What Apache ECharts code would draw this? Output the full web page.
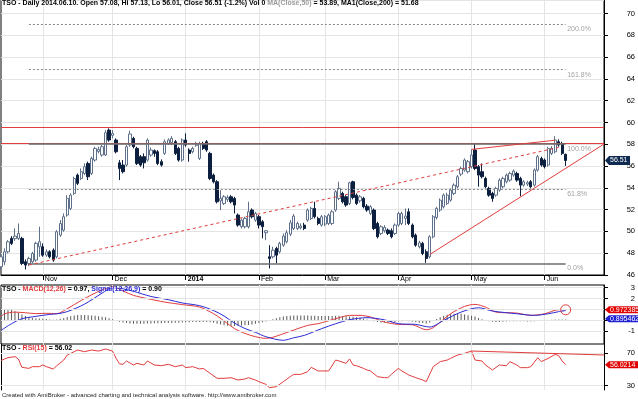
<!DOCTYPE html>
<html>
<head>
<meta charset="utf-8">
<script src="https://cdn.jsdelivr.net/npm/echarts@6/dist/echarts.min.js"></script>
<style>
html, body { margin: 0; padding: 0; background: #fff; }
#container { width: 638px; height: 399px; }
</style>
</head>
<body>
<div id="container"></div>
<script>
// TSO daily, 2013-10-16 .. 2014-06-10
var opens = [46.75,47.21,48.13,49.36,49.33,49.36,49.36,47.21,47.06,47.21,
  47.37,48.59,48.59,47.82,48.13,48.28,47.67,49.66,50.12,51.50,
  52.11,53.49,55.17,54.86,55.32,56.24,55.32,56.55,57.34,57.01,
  57.01,59.30,58.81,58.39,56.30,56.09,56.09,57.93,58.54,57.62,
  56.86,56.86,56.55,57.01,57.41,57.31,56.40,57.16,58.08,58.14,
  58.23,57.62,56.55,58.39,57.47,57.31,57.90,56.70,58.08,58.23,
  57.16,55.17,54.56,52.81,52.57,52.94,53.18,53.03,51.50,50.43,
  50.43,50.43,51.96,51.04,51.35,50.89,49.88,47.67,47.67,48.44,
  48.13,48.74,49.05,49.75,50.27,50.27,50.33,50.58,51.04,51.19,
  52.11,51.19,50.58,50.67,50.73,50.73,51.96,53.03,53.49,53.18,
  52.57,54.56,53.33,52.81,53.03,52.32,51.65,51.96,50.73,49.81,
  50.06,50.12,50.06,49.81,50.58,50.73,51.19,51.80,50.58,49.66,
  48.59,48.90,48.13,47.67,49.51,51.28,51.96,52.26,52.57,52.87,
  53.49,54.10,55.26,55.63,55.48,55.94,57.47,55.94,55.48,54.86,
  53.95,53.49,53.33,53.79,54.10,54.56,54.71,55.17,55.32,54.86,
  54.25,54.34,54.56,54.25,55.63,56.70,56.55,56.09,57.16,57.31,
  58.23,58.08,57.08];
var closes = [47.67,48.13,49.05,48.90,49.57,49.81,47.06,46.91,47.52,47.98,
  48.90,49.05,47.82,48.13,47.67,47.37,49.97,50.73,51.35,53.03,
  53.33,54.86,54.41,55.48,55.94,55.02,56.70,57.62,57.53,57.77,
  59.06,58.39,59.00,57.31,55.78,55.48,57.77,58.94,57.77,56.24,
  56.09,56.30,58.39,57.47,57.16,56.24,56.09,58.23,58.39,58.54,
  57.16,56.55,58.39,57.93,57.16,57.62,58.08,58.08,57.62,57.47,
  54.86,54.56,52.72,53.03,53.18,53.12,52.72,52.42,50.58,51.04,
  51.19,51.80,51.35,51.65,50.58,50.43,50.06,47.52,48.28,47.82,
  48.90,49.57,49.88,50.79,51.41,50.73,50.49,50.27,51.96,52.11,
  51.35,50.73,51.35,51.35,51.50,51.80,53.64,53.95,52.72,52.42,
  54.47,53.12,52.57,53.18,52.26,51.96,52.26,50.27,49.51,50.43,
  50.37,49.81,49.51,50.58,51.65,51.65,51.41,50.73,49.51,48.74,
  48.96,47.98,47.52,49.51,51.35,52.11,52.87,53.33,53.33,53.79,
  54.25,55.02,55.78,56.55,56.40,57.01,55.78,55.17,55.02,54.10,
  53.33,53.03,53.95,54.71,54.86,55.17,55.32,55.54,54.71,54.25,
  54.56,54.47,54.10,55.63,56.86,56.09,55.94,57.62,57.62,58.39,
  57.93,57.16,56.51];
var lows = [46.51,46.91,47.98,48.74,49.14,49.20,46.91,46.51,46.81,47.06,
  47.21,47.67,47.67,47.67,47.52,47.21,47.52,49.51,49.97,51.35,
  51.96,53.33,54.25,54.71,55.17,54.71,55.17,56.40,57.16,56.86,
  56.92,58.23,58.54,57.16,54.71,55.32,55.94,57.77,57.62,56.09,
  55.94,55.78,56.40,56.86,56.86,56.09,55.94,57.01,57.93,57.93,
  57.01,56.40,56.40,57.77,56.40,57.16,57.77,56.55,57.47,57.31,
  54.71,54.41,52.57,51.96,52.42,52.72,52.57,51.65,50.43,50.27,
  50.27,50.27,51.19,50.89,50.27,49.36,49.20,46.60,47.52,47.06,
  47.98,48.59,48.90,49.57,50.12,50.12,50.18,50.12,50.89,51.04,
  51.19,50.58,50.43,50.49,50.58,50.58,51.80,52.87,52.57,52.26,
  52.42,52.94,52.42,52.63,52.11,51.80,51.50,50.12,49.36,49.66,
  49.88,49.66,49.36,49.66,50.43,50.58,50.58,50.58,49.36,48.59,
  48.44,47.82,47.12,47.52,49.36,51.10,51.80,52.11,52.42,52.72,
  53.33,53.95,55.08,55.48,55.32,55.78,55.63,54.10,54.86,53.95,
  53.18,52.72,53.18,53.64,53.95,54.41,54.56,55.02,54.56,53.24,
  54.10,54.16,53.95,54.10,55.48,55.94,55.78,55.94,57.01,57.16,
  57.77,57.01,56.01];
var highs = [47.98,48.44,49.20,49.57,50.27,50.73,49.51,47.43,47.67,48.13,
  49.05,50.43,48.90,48.35,48.28,48.44,50.12,51.04,51.65,53.33,
  53.49,55.02,55.32,55.78,56.24,56.40,56.86,57.77,57.77,57.93,
  59.30,59.46,59.30,58.54,56.55,56.55,57.93,59.24,58.69,57.77,
  57.01,57.16,58.54,57.71,57.53,57.47,56.61,58.45,58.54,58.75,
  58.39,57.77,58.54,59.00,57.62,57.77,58.23,58.23,58.23,58.39,
  57.31,55.32,54.71,53.79,53.33,53.33,53.33,53.18,51.65,51.19,
  51.35,52.72,52.11,51.80,51.50,51.04,50.12,48.74,48.59,48.59,
  49.05,49.81,50.12,51.04,51.59,50.89,50.73,50.79,52.11,52.26,
  52.72,51.35,51.50,51.50,51.65,51.96,53.79,54.56,53.64,53.33,
  54.56,54.65,53.49,53.33,53.18,52.51,52.42,52.11,50.89,50.58,
  50.58,50.27,50.27,50.73,51.80,51.80,52.11,52.11,50.73,49.81,
  49.14,49.05,48.35,49.66,51.50,52.26,53.03,53.49,53.55,53.95,
  54.41,55.17,55.94,56.70,56.55,57.53,58.08,56.09,56.24,55.02,
  54.10,53.64,54.10,54.86,55.02,55.32,55.48,55.69,55.48,55.02,
  54.71,54.65,54.71,55.78,57.01,56.86,56.70,57.77,57.83,58.75,
  58.45,58.23,57.13];

// MACD(12,26) and Signal(12,26,9): [bar, value]
var macdPts = [[0,0.35],[1,0.6],[4,0.76],[7,0.7],[10,0.62],[13,0.65],[16,0.62],[19,1.07],
  [23,1.83],[26,2.35],[29,2.8],[32,3.1],[35,2.7],[38,2.3],[42,2.0],[47,1.68],[52,1.45],
  [57,1.22],[61,0.61],[64,-0.05],[67,-0.76],[70,-1.2],[73,-1.5],[76,-1.65],[78,-1.55],
  [83,-1.0],[88,-0.46],[91,-0.3],[96,0.15],[100,0.46],[103,0.46],[106,0.31],[110,-0.15],
  [114,-0.37],[118,-0.4],[122,-0.86],[124,-0.67],[129,0.61],[133,1.28],[136,1.47],
  [139,1.22],[142,0.76],[148,0.67],[152,0.46],[156,0.61],[160,0.98],[162,0.97]];
var signalPts = [[0,-0.92],[3,-0.31],[6,0.15],[10,0.37],[14,0.55],[16,0.6],[19,0.8],
  [24,1.5],[29,2.5],[32,3.0],[35,2.9],[38,2.67],[43,2.2],[48,1.9],[52,1.6],[57,1.35],
  [61,0.9],[64,0.4],[67,-0.25],[70,-0.75],[73,-1.1],[76,-1.5],[81,-1.83],[84,-1.6],
  [87,-1.38],[92,-0.76],[96,-0.31],[100,0.06],[105,0.25],[110,0.05],[114,-0.3],
  [119,-0.37],[123,-0.61],[127,0.0],[132,0.76],[137,1.16],[141,0.86],[148,0.61],
  [153,0.46],[157,0.61],[160,0.8],[162,0.9]];
var histVals = [1.1,1.05,1.0,0.95,0.85,0.7,0.55,0.4,0.3,0.25,
  0.2,0.18,0.15,0.12,0.08,0.05,0.08,0.15,0.22,0.3,
  0.38,0.45,0.5,0.5,0.5,0.48,0.45,0.42,0.38,0.33,
  0.28,0.2,0.1,-0.02,-0.12,-0.2,-0.25,-0.28,-0.3,-0.3,
  -0.3,-0.3,-0.28,-0.28,-0.27,-0.27,-0.26,-0.25,-0.24,-0.23,
  -0.22,-0.21,-0.2,-0.18,-0.17,-0.16,-0.15,-0.15,-0.15,-0.15,
  -0.18,-0.22,-0.3,-0.38,-0.45,-0.5,-0.52,-0.52,-0.5,-0.48,
  -0.45,-0.42,-0.38,-0.32,-0.25,-0.18,-0.1,0.0,0.1,0.2,
  0.28,0.35,0.4,0.42,0.44,0.45,0.45,0.45,0.44,0.43,
  0.42,0.4,0.4,0.4,0.4,0.4,0.42,0.42,0.4,0.38,
  0.36,0.33,0.28,0.22,0.15,0.08,0.0,-0.08,-0.15,-0.2,
  -0.2,-0.2,-0.18,-0.15,-0.1,-0.08,-0.06,-0.08,-0.12,-0.18,
  -0.22,-0.25,-0.28,-0.2,-0.05,0.12,0.28,0.42,0.52,0.6,
  0.62,0.62,0.6,0.55,0.48,0.42,0.35,0.22,0.1,0.0,
  -0.08,-0.12,-0.14,-0.14,-0.12,-0.1,-0.08,-0.07,-0.07,-0.08,
  -0.09,-0.1,-0.1,-0.07,-0.03,0.0,0.02,0.04,0.06,0.08,
  0.09,0.08,0.07];

// RSI(15): [bar, value]
var rsiPts = [[0,61],[1,63],[2,64.6],[4,65.9],[5,63],[6,52.7],[8,51.4],[9,53.5],[11,53.5],
  [12,55.6],[13,53.5],[15,50.6],[16,54.7],[18,61.7],[19,67.9],[21,72],[22,74.1],[24,72],
  [26,74.1],[28,72.8],[30,75.3],[32,72.8],[33,64],[34,57],[35,56.4],[36,60.5],[38,55.6],
  [39,57.6],[41,55.6],[42,60.5],[44,55.6],[46,54.7],[48,56.4],[50,53.5],[52,55.6],
  [53,52.3],[55,53.5],[57,50.6],[58,51.4],[60,45.3],[62,39.1],[64,39.1],[66,39.9],
  [68,37.0],[70,38.3],[71,39.9],[73,37.0],[74,35.0],[76,31.7],[77,27.6],[79,28.8],
  [81,35.0],[83,41.2],[84,44.0],[86,44.0],[88,47.3],[89,52.7],[91,48.2],[94,48.2],
  [96,61.7],[97,60.5],[99,57.6],[100,63.0],[101,55.6],[102,54.7],[104,51.4],[105,49.4],
  [106,48.2],[108,41.2],[110,39.9],[111,39.9],[112,44.0],[114,51.4],[115,48.2],
  [117,43.2],[119,39.9],[121,37.0],[122,35.0],[124,53.5],[126,59.7],[128,61.7],
  [129,63.8],[131,67.9],[133,70.0],[135,72.8],[136,61.7],[138,60.5],[139,55.6],
  [141,49.4],[143,55.6],[145,54.7],[146,59.7],[148,55.6],[149,52.3],[151,52.3],
  [152,53.5],[154,64.6],[155,59.7],[157,63.8],[159,68.7],[160,67.1],[161,60.5],[162,56.02]];

// drawings on the chart
var redLevels = [59.57, 58.05];
var fibLow = 47.06, fibHigh = 58.05, fibFrom = 8, fibTo = 162;
var fibRatios = [0, 0.618, 1, 1.618, 2];
var dottedTrend = [[8, 46.92], [160, 57.71]];
var aprilTrend = [[123, 47.88], [173, 58.02]];
var mayTrend = [[135, 57.53], [159, 58.37]];
var rsiTrend = [[135, 72.8], [173, 67.9]];

var priceTicks = { min: 46, max: 71.24, step: 2 };
var macdTicks = [-1, 0, 1, 2, 3];
var rsiTicks = [30, 70];

var holidays = ['2013-11-28','2013-12-25','2014-01-01','2014-01-20','2014-02-17','2014-04-18','2014-05-26'];
var monthNames = ['Jan','Feb','Mar','Apr','May','Jun','Jul','Aug','Sep','Oct','Nov','Dec'];

// trading days, plus the blank days to the right of the last bar
var dates = [];
var day = new Date(Date.UTC(2013, 9, 16));
while (day.getTime() <= Date.UTC(2014, 5, 25)) {
  var s = day.toISOString().slice(0, 10);
  var wd = day.getUTCDay();
  if (wd !== 0 && wd !== 6 && holidays.indexOf(s) < 0) dates.push(s);
  day.setUTCDate(day.getUTCDate() + 1);
}
function monthStart(i) {
  return i > 0 && dates[i].slice(5, 7) !== dates[i - 1].slice(5, 7);
}

var ohlc = opens.map(function (o, i) { return [o, closes[i], lows[i], highs[i]]; });
function pts(a) { return a.map(function (p) { return [dates[p[0]], p[1]]; }); }
function seg(a, style) {
  return [{ coord: [dates[a[0][0]], a[0][1]], lineStyle: style }, { coord: [dates[a[1][0]], a[1][1]] }];
}

var font = '"Liberation Sans", Arial, sans-serif';
var red = '#e23c3c';
var gridGray = '#e4e4e4';

var priceLines = [];
redLevels.forEach(function (v) {
  priceLines.push({ yAxis: v, lineStyle: { color: red, width: 1, type: 'solid' } });
});
var fibLabels = [];
fibRatios.forEach(function (r) {
  var v = fibLow + r * (fibHigh - fibLow);
  var solid = (r === 0 || r === 1);
  priceLines.push(seg([[fibFrom, v], [fibTo, v]],
    { color: solid ? '#6e6e6e' : '#8a8a8a', width: solid ? 1.5 : 1, type: solid ? 'solid' : [2, 2] }));
  fibLabels.push({ value: [dates[fibTo], v], label: { formatter: (r * 100).toFixed(1) + '%' } });
});
priceLines.push(seg(dottedTrend, { color: red, width: 1, type: [3, 3] }));
priceLines.push(seg(aprilTrend, { color: red, width: 1, type: 'solid' }));
priceLines.push(seg(mayTrend, { color: red, width: 1, type: 'solid' }));

var chart = echarts.init(document.getElementById('container'));

function xAxisFor(g, labels) {
  return {
    type: 'category', gridIndex: g, data: dates, boundaryGap: false,
    axisLine: { show: labels, lineStyle: { color: '#000' } },
    axisTick: { show: labels, interval: monthStart, length: 5, lineStyle: { color: '#000' } },
    axisLabel: {
      show: labels, interval: monthStart, align: 'left', margin: 1, padding: [0, 0, 0, 2],
      fontSize: 7, fontFamily: font, color: '#000',
      formatter: function (v) {
        var m = +v.slice(5, 7);
        return m === 1 ? '{y|' + v.slice(0, 4) + '}' : monthNames[m - 1];
      },
      rich: { y: { fontSize: 7, fontFamily: font, fontWeight: 'bold', color: '#000' } }
    },
    splitLine: { show: true, interval: monthStart, lineStyle: { color: gridGray } }
  };
}
function rightAxis(g, min, max, custom) {
  var ax = {
    type: 'value', gridIndex: g, position: 'right', min: min, max: max,
    axisLine: { show: true, lineStyle: { color: '#000' } },
    axisTick: { show: true, length: 4, lineStyle: { color: '#000' } },
    axisLabel: { fontSize: 7.5, fontFamily: font, color: '#000', align: 'right', margin: 31 },
    splitLine: { show: false }
  };
  if (custom) {
    ax.axisTick.customValues = custom;
    ax.axisLabel.customValues = custom;
  }
  return ax;
}

var yPrice = rightAxis(0, priceTicks.min, priceTicks.max);
yPrice.interval = priceTicks.step;
yPrice.axisLabel.showMaxLabel = false;
yPrice.splitLine = { show: true, lineStyle: { color: gridGray } };

var option = {
  animation: false,
  backgroundColor: '#fff',
  title: [
    { left: 2, top: 0, padding: 0,
      text: '{k|TSO - Daily 2014.06.10. Open 57.08, Hi 57.13, Lo 56.01, Close 56.51 (-1.2%) Vol 0 }{g|MA(Close,50)}{k| = 53.89, MA1(Close,200) = 51.68}',
      textStyle: { rich: {
        k: { fontSize: 7, fontFamily: font, color: '#000' },
        g: { fontSize: 7, fontFamily: font, color: '#9a9a9a' } } } },
    { left: 2, top: 286, padding: 0,
      text: '{k|TSO - }{r|MACD(12,26)}{k| = 0.97, }{b|Signal(12,26,9)}{k| = 0.90}',
      textStyle: { rich: {
        k: { fontSize: 7, fontFamily: font, color: '#000' },
        r: { fontSize: 7, fontFamily: font, color: red },
        b: { fontSize: 7, fontFamily: font, color: '#2b2bd6' } } } },
    { left: 2, top: 345, padding: 0,
      text: '{k|TSO - }{r|RSI(15)}{k| = 56.02}',
      textStyle: { rich: {
        k: { fontSize: 7, fontFamily: font, color: '#000' },
        r: { fontSize: 7, fontFamily: font, color: red } } } },
    { left: 2, top: 392, padding: 0,
      text: 'Created with AmiBroker - advanced charting and technical analysis software. http://www.amibroker.com',
      textStyle: { fontSize: 6, fontFamily: font, color: '#222', fontWeight: 'normal' } }
  ],
  grid: [
    { left: 1, right: 34, top: 0, height: 275, show: true, borderColor: '#000', borderWidth: 1, outerBoundsMode: 'none' },
    { left: 1, right: 34, top: 285, height: 59, show: true, borderColor: '#000', borderWidth: 1, outerBoundsMode: 'none' },
    { left: 1, right: 34, top: 344, height: 46, show: false, outerBoundsMode: 'none' }
  ],
  xAxis: [xAxisFor(0, true), xAxisFor(1, false), xAxisFor(2, false)],
  yAxis: [
    yPrice,
    rightAxis(1, -2.17, 3.25, macdTicks),
    rightAxis(2, 24.7, 81.5, rsiTicks),
    { type: 'value', gridIndex: 2, position: 'left', min: 24.7, max: 81.5,
      axisLine: { show: true, lineStyle: { color: '#000' } },
      axisTick: { show: false }, axisLabel: { show: false }, splitLine: { show: false } }
  ],
  series: [
    { type: 'candlestick', xAxisIndex: 0, yAxisIndex: 0, data: ohlc, barWidth: 2.8,
      itemStyle: { color: '#ffffff', color0: '#0c1f3f', borderColor: '#5f718a', borderColor0: '#0c1f3f', borderWidth: 1 },
      markLine: { silent: true, symbol: ['none', 'none'], animation: false, label: { show: false }, data: priceLines } },
    { type: 'scatter', xAxisIndex: 0, yAxisIndex: 0, data: fibLabels, symbolSize: 1, silent: true,
      itemStyle: { color: 'rgba(0,0,0,0)' },
      label: { show: true, position: 'right', distance: 1, offset: [0, 5],
        color: '#8a8a8a', fontSize: 7, fontFamily: font } },
    { type: 'bar', xAxisIndex: 1, yAxisIndex: 1, data: histVals, barWidth: 1,
      itemStyle: { color: '#5a5a5a' },
      markLine: { silent: true, symbol: ['none', 'none'], animation: false,
        lineStyle: { color: gridGray, width: 1, type: 'solid' }, label: { show: false },
        data: macdTicks.map(function (v) { return { yAxis: v }; }) } },
    { type: 'line', xAxisIndex: 1, yAxisIndex: 1, data: pts(macdPts), showSymbol: false, smooth: 0.3,
      lineStyle: { color: red, width: 1 },
      markPoint: { silent: true, symbol: 'circle', symbolSize: 10,
        itemStyle: { color: 'rgba(0,0,0,0)', borderColor: red, borderWidth: 1 }, label: { show: false },
        data: [{ coord: [dates[macdPts[macdPts.length - 1][0]], macdPts[macdPts.length - 1][1]] }] } },
    { type: 'line', xAxisIndex: 1, yAxisIndex: 1, data: pts(signalPts), showSymbol: false, smooth: 0.3,
      lineStyle: { color: '#2b2bd6', width: 1 } },
    { type: 'line', xAxisIndex: 2, yAxisIndex: 2, data: pts(rsiPts), showSymbol: false,
      lineStyle: { color: red, width: 1 },
      markLine: { silent: true, symbol: ['none', 'none'], animation: false, label: { show: false },
        data: rsiTicks.map(function (v) { return { yAxis: v, lineStyle: { color: gridGray, width: 1, type: 'solid' } }; })
          .concat([seg(rsiTrend, { color: red, width: 1, type: 'solid' })]) } }
  ]
};
chart.setOption(option);

// value tags on the right axis
var axisX = 604;
function tag(yAxisIndex, value, text, fill, h, w, minTop) {
  var y = chart.convertToPixel({ yAxisIndex: yAxisIndex }, value);
  if (minTop != null && y - h / 2 < minTop) y = minTop + h / 2;
  return {
    bottom: y + h / 2,
    els: [
      { type: 'polygon', z: 100,
        shape: { points: [[axisX + 1, y], [axisX + 5, y - h / 2], [axisX + 5 + w, y - h / 2], [axisX + 5 + w, y + h / 2], [axisX + 5, y + h / 2]] },
        style: { fill: fill } },
      { type: 'text', z: 101, x: axisX + 6, y: y,
        style: { text: text, fill: '#fff', font: '7px ' + font, verticalAlign: 'middle', align: 'left' } }
    ]
  };
}
var lastClose = closes[closes.length - 1];
var tPrice = tag(0, lastClose, lastClose.toFixed(2), '#0e2a50', 9, 21);
var tMacd = tag(1, 0.972385, '0.972385', '#e00000', 7, 40);
var tSig = tag(1, 0.895462, '0.895462', '#1e1ed2', 7, 40, tMacd.bottom + 2);
var tRsi = tag(2, 56.0214, '56.0214', '#e00000', 7, 40);
chart.setOption({ graphic: tPrice.els.concat(tMacd.els, tSig.els, tRsi.els) });
</script>
</body>
</html>
